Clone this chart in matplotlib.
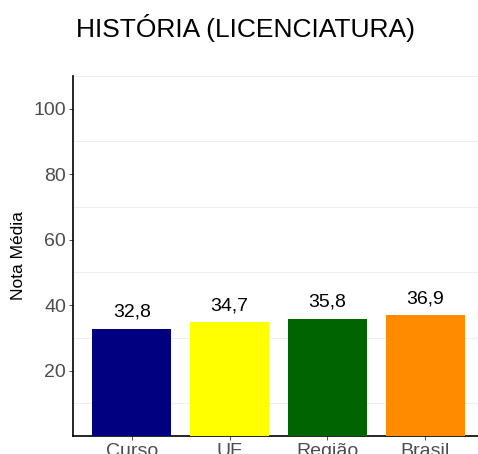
import matplotlib
matplotlib.use("Agg")
import matplotlib.pyplot as plt
from matplotlib.ticker import MultipleLocator

categories = ["Curso", "UF", "Região", "Brasil"]
notas = [32.8, 34.7, 35.8, 36.9]
cores = ["#000080", "#FFFF00", "#006400", "#FF8C00"]
yticks = [20, 40, 60, 80, 100]

plt.rcParams['font.family'] = ['Liberation Sans', 'DejaVu Sans']

fig = plt.figure(figsize=(4.78, 4.54), dpi=100)
ax = fig.add_axes([73 / 478, 18 / 454, 411 / 478, 360 / 454])

x = list(range(len(categories)))
ax.bar(x, notas, width=0.81, color=cores, zorder=3)
for xi, v in zip(x, notas):
    ax.text(xi, v + 5, f"{v:.1f}".replace(".", ","), ha="center", va="center",
            fontsize=14, color="black")

ax.set_xlim(-0.6, 3.6)
ax.set_ylim(0, 110)
ax.set_xticks(x)
ax.set_xticklabels(categories)
ax.set_yticks(yticks)
ax.set_yticks([10, 30, 50, 70, 90, 110], minor=True)
ax.grid(axis="y", which="minor", color="#ebebeb", linewidth=0.6, zorder=0)
ax.tick_params(axis="both", which="major", labelsize=14, colors="#333333",
               labelcolor="#4d4d4d", length=3, width=0.6, pad=2)
ax.tick_params(axis="y", which="minor", length=0)

for s in ["top", "right"]:
    ax.spines[s].set_visible(False)
ax.spines["left"].set_linewidth(1.2)
ax.spines["bottom"].set_linewidth(1.2)

ax.set_ylabel("Nota Média", fontsize=12.5, color="black", labelpad=5)
fig.text(246 / 478, 1 - 28 / 454, "HISTÓRIA (LICENCIATURA)", ha="center",
         va="center", fontsize=19, color="black")

fig.savefig("out.png", dpi=100)
